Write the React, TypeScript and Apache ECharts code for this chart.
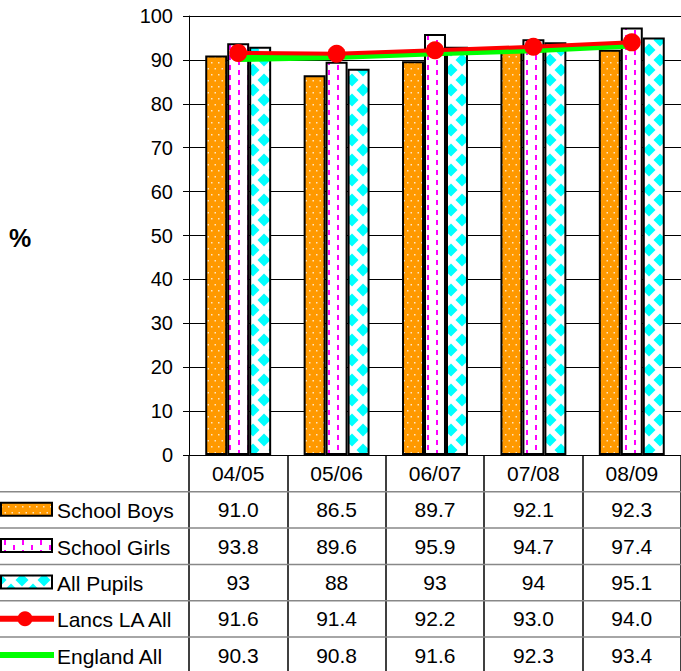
import React, { useEffect, useRef } from "react";
import * as echarts from "echarts";

const categories = ["04/05", "05/06", "06/07", "07/08", "08/09"];
const seriesNames = ["School Boys", "School Girls", "All Pupils", "Lancs LA All", "England All"];
const schoolBoys = [91.0, 86.5, 89.7, 92.1, 92.3];
const schoolGirls = [93.8, 89.6, 95.9, 94.7, 97.4];
const allPupils = [93, 88, 93, 94, 95.1];
const lancsAll = [91.6, 91.4, 92.2, 93.0, 94.0];
const englandAll = [90.3, 90.8, 91.6, 92.3, 93.4];

const FONT = '"Liberation Sans", Arial, sans-serif';

function makeCanvas(w: number, h: number, draw: (c: CanvasRenderingContext2D) => void) {
  const cv = document.createElement("canvas");
  cv.width = w;
  cv.height = h;
  const ctx = cv.getContext("2d")!;
  draw(ctx);
  return { image: cv, repeat: "repeat", imageWidth: w, imageHeight: h } as any;
}

function boysPattern() {
  return makeCanvas(7, 12, (c) => {
    c.fillStyle = "#FF9900";
    c.fillRect(0, 0, 7, 12);
    c.fillStyle = "#FFE6C0";
    c.fillRect(1, 2, 1.5, 1.5);
    c.fillRect(4.5, 8, 1.5, 1.5);
  });
}
function girlsPattern() {
  return makeCanvas(18, 10, (c) => {
    c.fillStyle = "#FFFFFF";
    c.fillRect(0, 0, 18, 10);
    c.fillStyle = "#FF00FF";
    c.fillRect(4, 0, 2, 5);
    c.fillRect(13, 5, 2, 5);
  });
}
function pupilsPattern() {
  return makeCanvas(22, 20, (c) => {
    c.fillStyle = "#FFFFFF";
    c.fillRect(0, 0, 22, 20);
    c.fillStyle = "#00FFFF";
    const diamond = (cx: number, cy: number) => {
      c.beginPath();
      c.moveTo(cx, cy - 6.5);
      c.lineTo(cx + 6.5, cy);
      c.lineTo(cx, cy + 6.5);
      c.lineTo(cx - 6.5, cy);
      c.closePath();
      c.fill();
    };
    diamond(11, 10);
    diamond(0, 0);
    diamond(22, 0);
    diamond(0, 20);
    diamond(22, 20);
  });
}

export default function App() {
  const ref = useRef<HTMLDivElement>(null);
  useEffect(() => {
    document.body.style.margin = "0";
    const chart = echarts.init(ref.current!, null, { renderer: "svg" });
    const pBoys = boysPattern();
    const pGirls = girlsPattern();
    const pPupils = pupilsPattern();
    const f1 = (v: number) => v.toFixed(1);
    const tableRows = [
      schoolBoys.map(f1),
      schoolGirls.map(f1),
      allPupils.map((v) => String(v)),
      lancsAll.map(f1),
      englandAll.map(f1),
    ];
    const ROW = 36.3;
    const extraAxes = tableRows.map((row, k) => ({
      type: "category",
      gridIndex: 0,
      position: "bottom",
      offset: ROW * (k + 1),
      data: row,
      axisLine: { show: false },
      axisTick: { show: false },
      axisLabel: { fontSize: 21, fontFamily: FONT, color: "#000", margin: 8 },
    }));

    const graphics: any[] = [];
    for (let k = 1; k <= 5; k++) {
      const y = 455.5 + ROW * k;
      graphics.push({
        type: "line",
        shape: { x1: 0, y1: y, x2: 681, y2: y },
        style: { stroke: "#888", lineWidth: 1.5 },
        z: 1,
      });
    }
    const rowCenter = (k: number) => 455 + ROW * k + 18.5;
    const keyFills = [pBoys, pGirls, pPupils];
    keyFills.forEach((fill, i) => {
      graphics.push({
        type: "rect",
        shape: { x: 1, y: rowCenter(i + 1) - 7, width: 51, height: 13 },
        style: { fill, stroke: "#000", lineWidth: 2 },
        z: 10,
      });
    });
    graphics.push({
      type: "line",
      shape: { x1: 0, y1: rowCenter(4), x2: 54, y2: rowCenter(4) },
      style: { stroke: "#FF0000", lineWidth: 6 },
      z: 10,
    });
    graphics.push({
      type: "circle",
      shape: { cx: 25, cy: rowCenter(4), r: 7.5 },
      style: { fill: "#FF0000" },
      z: 11,
    });
    graphics.push({
      type: "line",
      shape: { x1: 0, y1: rowCenter(5), x2: 54, y2: rowCenter(5) },
      style: { stroke: "#00FF00", lineWidth: 6 },
      z: 10,
    });
    seriesNames.forEach((name, i) => {
      graphics.push({
        type: "text",
        x: 57,
        y: rowCenter(i + 1) + 1,
        style: { text: name, font: `21px ${FONT}`, fill: "#000", verticalAlign: "middle" },
        z: 10,
      });
    });
    graphics.push({
      type: "text",
      x: 9,
      y: 238,
      style: { text: "%", font: `bold 25px ${FONT}`, fill: "#000", verticalAlign: "middle" },
      z: 10,
    });

    const barStyle = (color: any) => ({ color, borderColor: "#000", borderWidth: 2 });

    chart.setOption({
      animation: false,
      backgroundColor: "#fff",
      grid: { left: 189, top: 16, width: 497, height: 439, containLabel: false },
      xAxis: [
        {
          type: "category",
          data: categories,
          axisLine: { show: true, lineStyle: { color: "#000", width: 1 } },
          axisTick: {
            show: true,
            alignWithLabel: false,
            inside: false,
            length: 216,
            lineStyle: { color: "#000", width: 1.5 },
          },
          axisLabel: { fontSize: 21, fontFamily: FONT, color: "#000", margin: 8 },
          splitLine: { show: false },
        },
        ...extraAxes,
      ],
      yAxis: {
        type: "value",
        min: 0,
        max: 100,
        interval: 10,
        axisLine: { show: true, lineStyle: { color: "#000", width: 1 } },
        axisTick: { show: true, length: 6, lineStyle: { color: "#000" } },
        axisLabel: { fontSize: 20, fontFamily: FONT, color: "#000", margin: 16 },
        splitLine: { show: true, lineStyle: { color: "#000", width: 1 } },
      },
      series: [
        {
          name: seriesNames[0],
          type: "bar",
          data: schoolBoys,
          barGap: "0%",
          barCategoryGap: "33%",
          itemStyle: barStyle(pBoys),
        },
        {
          name: seriesNames[1],
          type: "bar",
          data: schoolGirls,
          itemStyle: barStyle(pGirls),
        },
        {
          name: seriesNames[2],
          type: "bar",
          data: allPupils,
          itemStyle: barStyle(pPupils),
        },
        {
          name: seriesNames[4],
          type: "line",
          data: englandAll,
          z: 5,
          symbol: "none",
          lineStyle: { color: "#00FF00", width: 7 },
          itemStyle: { color: "#00FF00" },
        },
        {
          name: seriesNames[3],
          type: "line",
          data: lancsAll,
          z: 6,
          symbol: "circle",
          symbolSize: 18,
          lineStyle: { color: "#FF0000", width: 4 },
          itemStyle: { color: "#FF0000" },
        },
      ],
      graphic: graphics,
    });
    return () => chart.dispose();
  }, []);
  return <div ref={ref} style={{ width: 681, height: 671 }} />;
}
